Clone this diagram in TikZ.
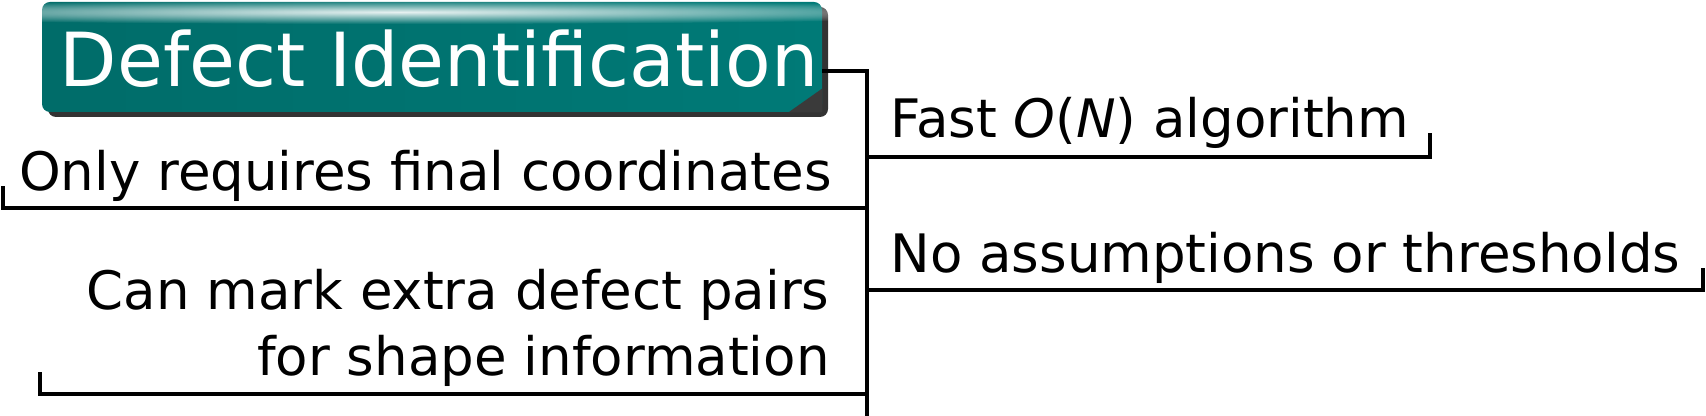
\documentclass[tikz,border=0pt]{standalone}
\usepackage{fontspec}
\setmainfont{DejaVu Sans}
\usetikzlibrary{shadows,fadings}

\definecolor{titletealdark}{RGB}{0,108,105}
\definecolor{titleteallight}{RGB}{0,122,119}
\definecolor{foldgray}{RGB}{58,58,58}

\tikzfading[name=glossfade, inner color=transparent!0, outer color=transparent!100]

\begin{document}
\begin{tikzpicture}[x=0.5pt, y=-0.5pt,
    titlebox/.style={rounded corners=4pt, left color=titletealdark, right color=titleteallight,
        minimum width=390pt, minimum height=55pt, inner sep=0pt,
        drop shadow={shadow xshift=3pt, shadow yshift=-2.5pt, fill=black!80, opacity=1}},
    titletext/.style={inner sep=0pt, text=white, font=\fontsize{37.3}{44}\selectfont},
    branch/.style={inner sep=0pt, font=\fontsize{26.5}{32.5}\selectfont},
    conn/.style={line width=1.75pt}]

    \useasboundingbox (0,0) rectangle (1706,416);

    % Draw the title box with its gloss and folded corner
    \node[titlebox] (root) at (432,57) {};
    \fill[white, opacity=0.9, path fading=glossfade] (400,12) ellipse [x radius=660, y radius=12];
    \fill[foldgray] ([xshift=-17pt]root.south east) -- ([yshift=12pt]root.south east)
        -- (root.south east) -- cycle;
    \node[titletext, anchor=base] (roottitle) at (439,87) {Defect Identification};

    % Draw the spine
    \coordinate (spinetop) at (867,71);
    \coordinate (spinebot) at (867,416);
    \draw[conn] (root.east |- spinetop) -- (spinetop) -- (spinebot);

    % Draw the branches on the right
    \node[branch, anchor=base west] (fast) at (890,138) {Fast \textit{O}(\textit{N}) algorithm};
    \coordinate (fastend) at (1430,157);
    \draw[conn] (spinetop |- fastend) -- (fastend) -- ++(0,-24);

    \node[branch, anchor=base west] (noassume) at (890,273) {No assumptions or thresholds};
    \coordinate (noassumeend) at (1703,290);
    \draw[conn] (spinetop |- noassumeend) -- (noassumeend) -- ++(0,-22);

    % Draw the branches on the left
    \node[branch, anchor=base east] (coords) at (832,191) {Only requires final coordinates};
    \coordinate (coordsend) at (3,208);
    \draw[conn] (spinetop |- coordsend) -- (coordsend) -- ++(0,-22);

    \node[branch, anchor=base east, align=right] (pairs) at (830,375)
        {Can mark extra defect pairs\\for shape information};
    \coordinate (pairsend) at (40,394);
    \draw[conn] (spinetop |- pairsend) -- (pairsend) -- ++(0,-22);

\end{tikzpicture}
\end{document}
